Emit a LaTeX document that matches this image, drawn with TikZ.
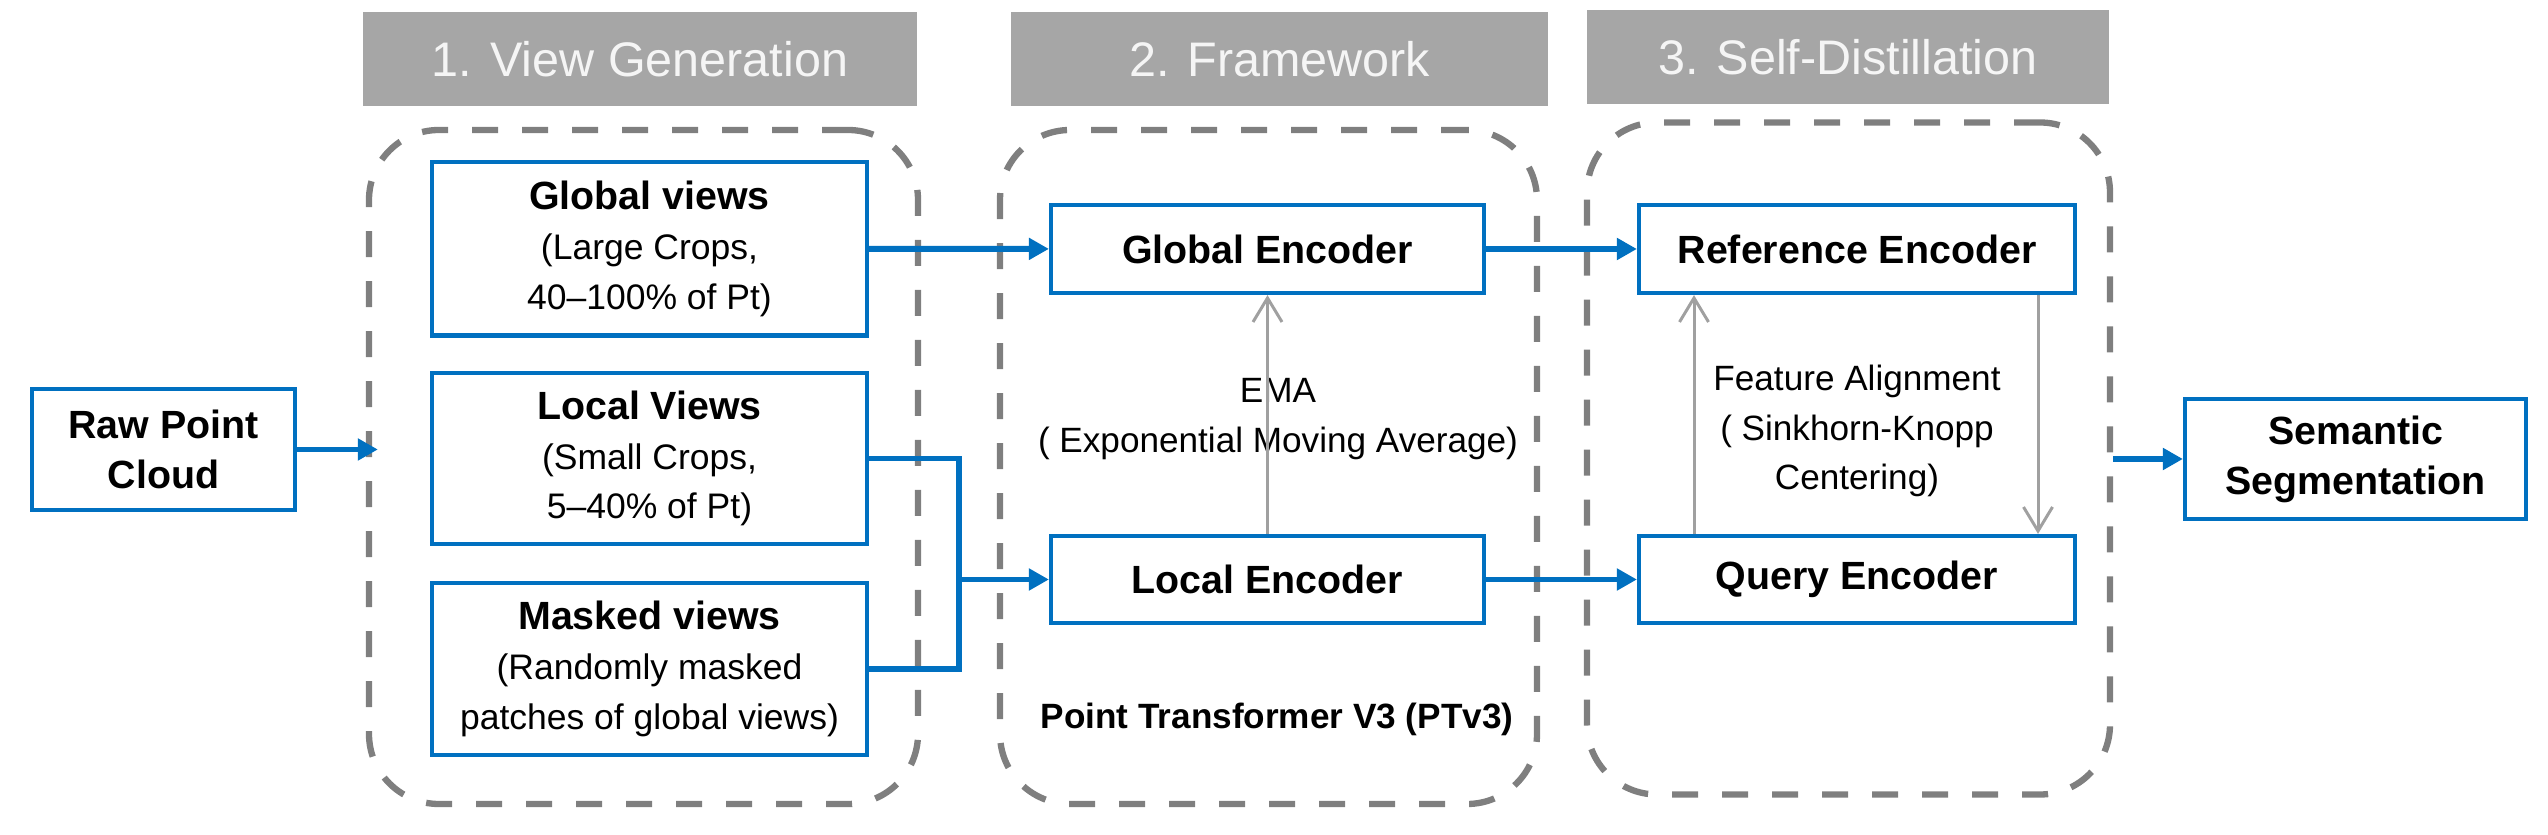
\documentclass[tikz,border=0pt]{standalone}
\usepackage{fontspec}
\setmainfont{Liberation Sans}
\usetikzlibrary{arrows.meta}
\definecolor{boxblue}{HTML}{0070C0}
\definecolor{headgray}{HTML}{A6A6A6}
\definecolor{dashgray}{HTML}{7F7F7F}
\definecolor{arrowgray}{HTML}{A0A0A0}
\tikzset{
  block/.style={draw=boxblue, line width=1.2pt, fill=white, inner sep=0pt, align=center, font=\fontsize{10.1}{14.2}\selectfont},
  header/.style={fill=headgray, text=white!96!black, inner sep=0pt, font=\fontsize{13.8}{16}\selectfont},
  stage/.style={draw=dashgray, line width=1.8pt, dash pattern=on 0.26cm off 0.24cm, rounded corners=0.7cm, inner sep=0pt},
  flow/.style={boxblue, line width=1.7pt},
  flowarrow/.style={flow, -{Triangle[length=0.2cm,width=0.21cm]}},
  update/.style={arrowgray, line width=0.85pt, -{Straight Barb[length=0.24cm,width=0.29cm]}},
  note/.style={align=center, font=\fontsize{10}{14.2}\selectfont}
}
\newcommand{\btitle}[1]{{\bfseries\fontsize{11.2}{15.4}\selectfont #1}}

\begin{document}
\begin{tikzpicture}[x=1cm, y=-1cm]
\useasboundingbox (0,0) rectangle (25.48,8.35);
\node[header, minimum width=5.54cm, minimum height=0.945cm] (hview) at (6.40,0.59) {1. View Generation};
\node[header, minimum width=5.37cm, minimum height=0.945cm] (hframe) at (12.795,0.59) {2. Framework};
\node[header, minimum width=5.22cm, minimum height=0.94cm] (hdistill) at (18.48,0.57) {3. Self-Distillation};

\node[stage, minimum width=5.49cm, minimum height=6.74cm] (viewgen) at (6.435,4.67) {};
\node[stage, minimum width=5.37cm, minimum height=6.74cm] (framework) at (12.685,4.67) {};
\node[stage, minimum width=5.23cm, minimum height=6.72cm] (selfdist) at (18.485,4.585) {};

\node[block, minimum width=2.63cm, minimum height=1.21cm] (raw) at (1.635,4.495) {\btitle{Raw Point}\\\btitle{Cloud}};
\node[block, minimum width=4.35cm, minimum height=1.735cm] (globalv) at (6.495,2.4875) {\btitle{Global views}\\(Large Crops,\\40–100\% of Pt)};
\node[block, minimum width=4.35cm, minimum height=1.71cm] (localv) at (6.495,4.585) {\btitle{Local Views}\\(Small Crops,\\5–40\% of Pt)};
\node[block, minimum width=4.35cm, minimum height=1.72cm] (maskv) at (6.495,6.69) {\btitle{Masked views}\\(Randomly masked\\patches of global views)};

\node[block, minimum width=4.33cm, minimum height=0.88cm] (globalenc) at (12.675,2.49) {\btitle{Global Encoder}};
\node[block, minimum width=4.33cm, minimum height=0.87cm] (localenc) at (12.675,5.795) {\btitle{Local Encoder}};
\node[block, minimum width=4.36cm, minimum height=0.88cm] (refenc) at (18.57,2.49) {\btitle{Reference Encoder}};
\node[block, minimum width=4.36cm, minimum height=0.87cm] (queryenc) at (18.57,5.795) {\btitle{Query Encoder}};
\node[block, minimum width=3.41cm, minimum height=1.2cm] (semseg) at (23.555,4.59) {\btitle{Semantic}\\\btitle{Segmentation}};

\node[note] (ema) at (12.78,4.195) {EMA\\( Exponential Moving Average)};
\node[note] (align) at (18.57,4.31) {Feature Alignment\\( Sinkhorn-Knopp\\Centering)};
\node[font=\bfseries\fontsize{10}{12}\selectfont] (ptv3) at (12.77,7.19) {Point Transformer V3 (PTv3)};

\draw[flowarrow, shorten >=-0.12cm] (raw.east) -- (viewgen.west |- raw.east);
\draw[flowarrow] (globalv) -- (globalenc);
\coordinate (merge) at (9.59,5.795);
\draw[flow] (localv.east) -| (merge) |- (maskv.east);
\draw[flowarrow] (merge) -- (localenc);
\draw[flowarrow] (globalenc) -- (refenc);
\draw[flowarrow] (localenc) -- (queryenc);
\draw[flowarrow] (selfdist.east |- semseg) -- (semseg);

\draw[update] (localenc) -- (globalenc);
\draw[update] ([xshift=-16.3mm]queryenc.north) -- ([xshift=-16.3mm]refenc.south);
\draw[update] ([xshift=18.1mm]refenc.south) -- ([xshift=18.1mm]queryenc.north);
\end{tikzpicture}
\end{document}
